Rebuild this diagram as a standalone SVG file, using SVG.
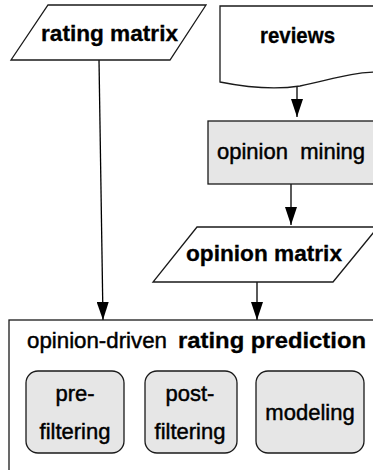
<svg xmlns="http://www.w3.org/2000/svg" width="373" height="470" viewBox="0 0 373 470">
<style>
.shape{fill:#ffffff;stroke:#1a1a1a;stroke-width:1.3}
.gray{fill:#e6e6e6;stroke:#1a1a1a;stroke-width:1.3}
.edge{fill:none;stroke:#000000;stroke-width:1.3}
.bold{font-family:"Liberation Sans",Arial,sans-serif;font-weight:bold;font-size:22px;fill:#000;stroke:#000;stroke-width:0.3}
.arial{font-family:"Liberation Sans",Arial,sans-serif;font-size:22px;fill:#000;stroke:#000;stroke-width:0.45}
</style>
<defs>
<marker id="ah" viewBox="0 0 18 12" refX="18" refY="6" markerWidth="18" markerHeight="12" markerUnits="userSpaceOnUse" orient="auto">
<path d="M0,0 L18,6 L0,12 Z" fill="#000"/>
</marker>
</defs>
<g id="connectors">
<path class="edge" d="M99,60 L103,320" marker-end="url(#ah)"/>
<path class="edge" d="M297,86 L297,117" marker-end="url(#ah)"/>
<path class="edge" d="M291,184 L291,225" marker-end="url(#ah)"/>
<path class="edge" d="M257,282 L257,320" marker-end="url(#ah)"/>
</g>
<g id="rating-matrix">
<path class="shape" d="M48,5 L206,5 L170,60 L11,60 Z"/>
<text class="bold" x="41" y="41" textLength="137" lengthAdjust="spacingAndGlyphs">rating matrix</text>
</g>
<g id="reviews">
<path class="shape" d="M220,6 L380,6 L380,72 C350,72 330,80 300,86 C275,90 250,88 220,82 Z"/>
<text class="bold" x="260" y="43" textLength="75" lengthAdjust="spacingAndGlyphs">reviews</text>
</g>
<g id="opinion-mining">
<rect class="gray" x="208" y="121" width="175" height="63"/>
<text class="arial" x="217" y="159" textLength="148" lengthAdjust="spacingAndGlyphs" xml:space="preserve">opinion  mining</text>
</g>
<g id="opinion-matrix">
<path class="shape" d="M197,227 L378,227 L333,282 L153,282 Z"/>
<text class="bold" x="186" y="261" textLength="156" lengthAdjust="spacingAndGlyphs">opinion matrix</text>
</g>
<g id="rating-prediction">
<rect class="shape" x="9" y="320" width="380" height="160"/>
<text x="27" y="348" class="arial"><tspan textLength="140" lengthAdjust="spacingAndGlyphs">opinion-driven</tspan><tspan x="178" font-weight="bold" stroke-width="0.3" textLength="188" lengthAdjust="spacingAndGlyphs">rating prediction</tspan></text>
</g>
<g id="pre-filtering">
<rect class="gray" x="26" y="371" width="98" height="82" rx="12"/>
<text class="arial" x="75" y="401" text-anchor="middle">pre-</text>
<text class="arial" x="75" y="439" text-anchor="middle">filtering</text>
</g>
<g id="post-filtering">
<rect class="gray" x="145" y="371" width="92" height="82" rx="12"/>
<text class="arial" x="190" y="401" text-anchor="middle">post-</text>
<text class="arial" x="190" y="439" text-anchor="middle">filtering</text>
</g>
<g id="modeling">
<rect class="gray" x="256" y="371" width="108" height="82" rx="12"/>
<text class="arial" x="310" y="420" text-anchor="middle">modeling</text>
</g>
</svg>
